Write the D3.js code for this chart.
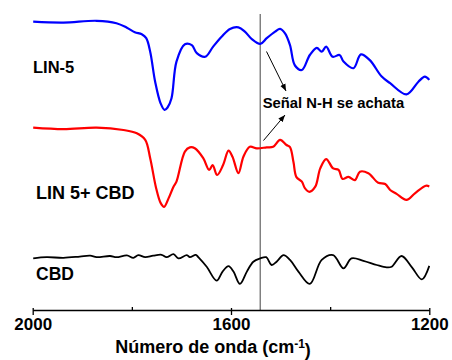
<!DOCTYPE html>
<html>
<head>
<meta charset="utf-8">
<script src="https://cdn.jsdelivr.net/npm/d3@7"></script>
<style>
  body { margin: 0; background: #fff; }
  text { font-family: "Liberation Sans", Arial, sans-serif; font-weight: bold; }
</style>
</head>
<body>
<svg></svg>
<script>
// FTIR spectra, stacked
const SVG = d3.select('svg');
const SVG_WIDTH = 452;
const SVG_HEIGHT = 360;
const LEFT = 32.7, RIGHT = 429.3, BOTTOM = 310, TOP = 10;

// wavenumber (cm-1) and intensity (arbitrary, offset per trace)
const lin5Wave = [1999, 1938, 1871, 1831, 1810, 1794, 1780, 1771, 1763, 1753, 1742, 1734, 1728, 1720, 1710, 1693, 1679, 1669, 1652, 1636, 1619, 1602, 1585, 1572, 1558, 1541, 1528, 1511, 1501, 1491, 1481, 1471, 1457, 1441, 1427, 1417, 1408, 1395, 1381, 1373, 1353, 1338, 1320, 1296, 1279, 1246, 1222, 1209, 1200];
const lin5Vals = [96.1, 95.8, 96.4, 95.6, 94.1, 92.6, 91.9, 90.6, 86.1, 76.1, 68.9, 66.7, 67.5, 70.6, 82.8, 88.6, 88.3, 85.6, 84.4, 87.8, 91.1, 93.7, 94.2, 92.8, 90.3, 88.7, 90.6, 92.8, 93.7, 92.2, 88.3, 81.5, 80.0, 85.0, 87.4, 86.1, 87.8, 84.4, 85.0, 82.8, 80.6, 85.2, 83.3, 77.8, 75.6, 71.9, 76.1, 77.8, 76.7];

const mixWave = [1999, 1938, 1871, 1817, 1790, 1773, 1763, 1751, 1742, 1735, 1726, 1716, 1710, 1693, 1683, 1673, 1656, 1644, 1637, 1628, 1616, 1605, 1597, 1585, 1575, 1562, 1548, 1528, 1515, 1501, 1488, 1481, 1474, 1468, 1457, 1451, 1442, 1430, 1420, 1408, 1394, 1383, 1375, 1363, 1350, 1340, 1323, 1303, 1289, 1279, 1266, 1246, 1229, 1207, 1200];
const mixVals = [60.8, 60.3, 60.8, 60.0, 58.9, 56.7, 50.6, 40.6, 35.7, 34.4, 37.2, 41.1, 42.8, 52.8, 54.2, 53.9, 50.6, 46.7, 48.3, 45.0, 48.3, 53.1, 51.1, 45.6, 51.1, 54.4, 53.9, 54.2, 54.4, 56.7, 55.0, 54.3, 49.3, 44.3, 42.8, 40.6, 39.4, 41.1, 47.2, 50.3, 47.2, 46.7, 43.7, 44.4, 43.3, 46.1, 45.6, 42.4, 42.0, 40.0, 38.7, 36.7, 38.9, 41.4, 41.2];

const cbdWave = [1999, 1972, 1938, 1905, 1884, 1871, 1844, 1831, 1810, 1797, 1787, 1773, 1757, 1740, 1730, 1716, 1706, 1689, 1683, 1671, 1666, 1649, 1629, 1617, 1605, 1595, 1582, 1568, 1555, 1541, 1529, 1518, 1508, 1494, 1481, 1464, 1441, 1417, 1394, 1373, 1357, 1333, 1306, 1286, 1276, 1256, 1235, 1215, 1200];
const cbdVals = [17.2, 17.6, 17.4, 17.8, 18.1, 17.6, 18.0, 17.6, 18.2, 17.4, 18.3, 17.6, 18.1, 18.4, 17.6, 18.6, 17.2, 18.3, 17.6, 18.4, 17.6, 14.4, 9.8, 12.8, 14.6, 12.8, 8.7, 12.8, 16.1, 17.2, 17.6, 15.0, 16.1, 18.3, 16.7, 12.8, 8.7, 16.7, 18.3, 13.9, 17.2, 16.4, 15.0, 14.2, 14.4, 18.0, 14.2, 10.2, 14.7];

const seriesNames = ['LIN-5', 'LIN 5+ CBD', 'CBD'];
const seriesColors = ['#0000ff', '#ff0000', '#000000'];
const labelLevels = [79, 37, 10];
const majorTicks = [2000, 1600, 1200];
const minorTicks = [1800, 1400];
const markerWave = 1541;
const noteText = 'Señal N-H se achata';

const series = [
  { name: seriesNames[0], color: seriesColors[0], pts: lin5Wave.map((w, i) => [w, lin5Vals[i]]) },
  { name: seriesNames[1], color: seriesColors[1], pts: mixWave.map((w, i) => [w, mixVals[i]]) },
  { name: seriesNames[2], color: seriesColors[2], pts: cbdWave.map((w, i) => [w, cbdVals[i]]) }
];
const labelSizes = ['16.5px', '18px', '17.5px'];

SVG.attr('width', SVG_WIDTH).attr('height', SVG_HEIGHT);

const xScale = d3.scaleLinear().domain([2000, 1200]).range([LEFT, RIGHT]);
const yScale = d3.scaleLinear().domain([0, 100]).range([BOTTOM, TOP]);

// marker line behind the curves
SVG.append('line')
   .attr('x1', xScale(markerWave)).attr('x2', xScale(markerWave))
   .attr('y1', yScale(98.7)).attr('y2', BOTTOM)
   .attr('stroke', '#7a7a7a').attr('stroke-width', 1.4);

const line = d3.line()
  .x(d => xScale(d[0]))
  .y(d => yScale(d[1]))
  .curve(d3.curveCatmullRom.alpha(0.5));

SVG.selectAll('path.trace')
   .data(series)
   .enter()
   .append('path')
     .attr('class', 'trace')
     .attr('d', d => line(d.pts))
     .attr('fill', 'none')
     .attr('stroke', d => d.color)
     .attr('stroke-width', (d, i) => i === 2 ? 1.8 : 2.2)
     .attr('stroke-linejoin', 'round');

// series labels
SVG.selectAll('text.lbl')
   .data(series)
   .enter()
   .append('text')
     .attr('class', 'lbl')
     .attr('x', (d, i) => i === 0 ? 33 : 36)
     .attr('y', (d, i) => yScale(labelLevels[i]))
     .style('font-size', (d, i) => labelSizes[i])
     .text(d => d.name);

// x axis
const xAxis = d3.axisBottom(xScale).tickValues(majorTicks).tickSize(5).tickSizeOuter(0).tickFormat(d3.format('d'));
const gx = SVG.append('g').attr('transform', `translate(0, ${BOTTOM})`).call(xAxis);
gx.select('.domain').attr('stroke-width', 1.3);
gx.selectAll('.tick line').attr('y1', -2).attr('stroke-width', 1.3);
gx.selectAll('.tick text').attr('y', 6).attr('dy', '0.8em').style('font-size', '17px')
  .style('font-family', '"Liberation Sans", Arial, sans-serif').style('font-weight', 'bold');

const xMinor = d3.axisTop(xScale).tickValues(minorTicks).tickSize(3).tickFormat('');
const gm = SVG.append('g').attr('transform', `translate(0, ${BOTTOM})`).call(xMinor);
gm.select('.domain').remove();
gm.selectAll('.tick line').attr('stroke-width', 1.3);

// axis title
const title = SVG.append('text')
   .attr('x', 213)
   .attr('y', 353)
   .style('text-anchor', 'middle')
   .style('font-size', '18px');
title.append('tspan').text('Número de onda (cm');
title.append('tspan').attr('dy', '-0.45em').style('font-size', '12px').text('-1');
title.append('tspan').attr('dy', '0.45em').text(')');

// annotation
SVG.append('defs').append('marker')
   .attr('id', 'arr')
   .attr('viewBox', '0 0 10 10')
   .attr('refX', 10).attr('refY', 5)
   .attr('markerWidth', 7).attr('markerHeight', 7)
   .attr('orient', 'auto')
   .append('path').attr('d', 'M0,1L10,5L0,9Z').attr('fill', '#000');

SVG.append('line')
   .attr('x1', 266.5).attr('y1', 51.5).attr('x2', 286).attr('y2', 91)
   .attr('stroke', '#000').attr('stroke-width', 1).attr('marker-end', 'url(#arr)');
SVG.append('line')
   .attr('x1', 263.5).attr('y1', 140.5).attr('x2', 285).attr('y2', 115)
   .attr('stroke', '#000').attr('stroke-width', 1).attr('marker-end', 'url(#arr)');

SVG.append('text')
   .attr('x', 262.7)
   .attr('y', 108)
   .style('font-size', '14.8px')
   .text(noteText);
</script>
</body>
</html>
